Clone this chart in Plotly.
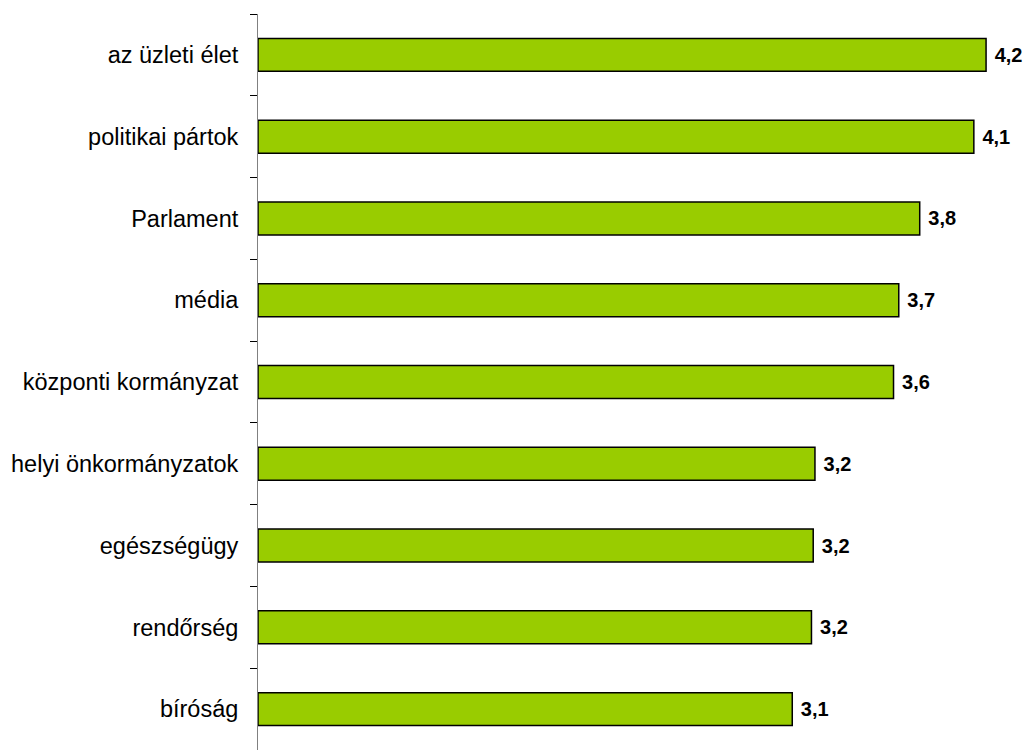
"""Horizontal bar chart: intézmények megítélése."""
import plotly.graph_objects as go

categories = [
    "az üzleti élet",
    "politikai pártok",
    "Parlament",
    "média",
    "központi kormányzat",
    "helyi önkormányzatok",
    "egészségügy",
    "rendőrség",
    "bíróság",
]
values = [4.17, 4.10, 3.79, 3.67, 3.64, 3.19, 3.18, 3.17, 3.06]

fig = go.Figure(
    go.Bar(
        x=values,
        y=categories,
        orientation='h',
        marker=dict(color='#99CC00', line=dict(color='black', width=1.5)),
        texttemplate=' %{x:.1f}',
        textposition='outside',
        textfont=dict(family='Liberation Sans', size=20, color='black',
                      weight='bold'),
        cliponaxis=False,
    )
)

fig.update_xaxes(visible=False, range=[0, 4.393], showgrid=False,
                 automargin=False)
fig.update_yaxes(
    autorange='reversed',
    automargin=False,
    showline=True,
    linecolor='#808080',
    linewidth=1,
    ticks='outside',
    tickson='boundaries',
    ticklen=7,
    tickcolor='black',
    tickwidth=1,
    ticklabelstandoff=14,
    tickfont=dict(family='Liberation Sans', size=23.5, color='black'),
    showgrid=False,
)
fig.update_layout(
    width=1025,
    height=753,
    margin=dict(l=258, r=0, t=14, b=3, autoexpand=False),
    bargap=0.597,
    separators=', ',
    plot_bgcolor='white',
    paper_bgcolor='white',
    showlegend=False,
)

# drop the default body margin so the figure fills the window exactly
fig.write_html(
    "out.html",
    config={'displayModeBar': False},
    post_script="document.body.style.margin='0';"
                "document.body.style.overflow='hidden';",
)
